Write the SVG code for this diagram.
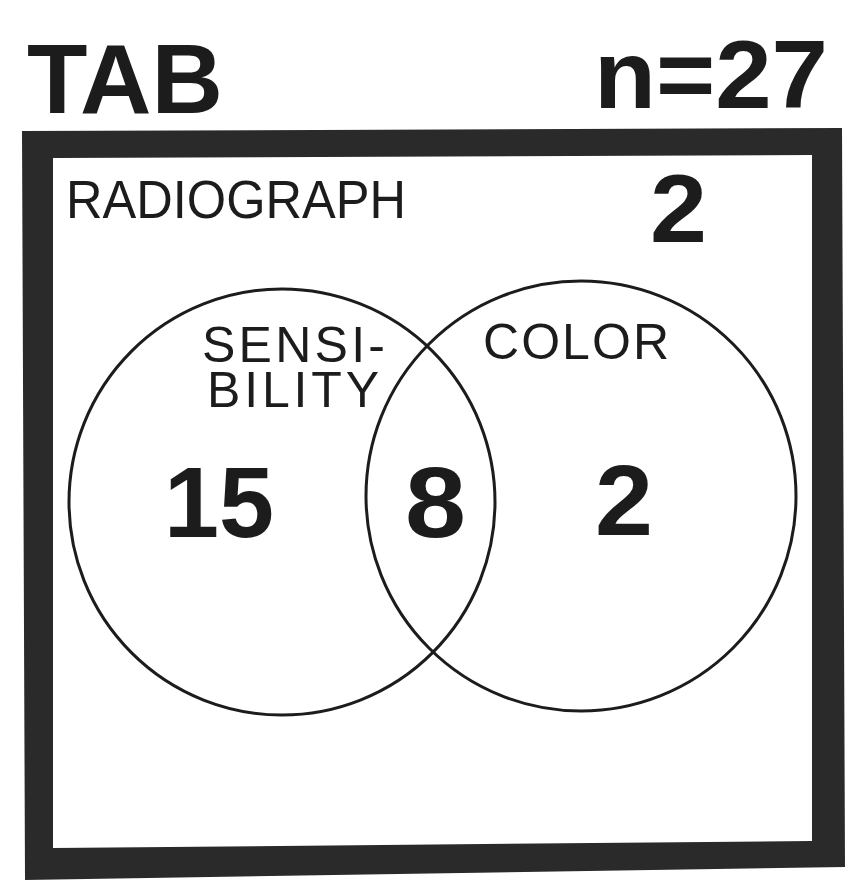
<svg xmlns="http://www.w3.org/2000/svg" width="867" height="887" viewBox="0 0 867 887">
  <style>
    .t { font-family: "Liberation Sans", Arial, sans-serif; fill: #1c1c1c; }
    .big { font-weight: bold; }
    .lbl { font-size: 50px; }
    .num { font-size: 100px; font-weight: bold; }
    .circle { fill: none; stroke: #1c1c1c; stroke-width: 3; }
  </style>
  <rect width="867" height="887" fill="#ffffff"/>
  <g id="title">
    <text class="t big" x="27" y="113" font-size="98" textLength="196" lengthAdjust="spacingAndGlyphs">TAB</text>
    <text class="t big" x="594" y="108" font-size="97" textLength="234" lengthAdjust="spacingAndGlyphs">n=27</text>
  </g>
  <g id="radiograph">
    <path fill="#2a2a2a" fill-rule="evenodd" d="M22,131 L842,128 L845,867 L25,880 Z M53,158 L812,155 L812,841 L53,848 Z"/>
    <text class="t" x="66" y="218" font-size="53" textLength="340" lengthAdjust="spacingAndGlyphs">RADIOGRAPH</text>
    <text class="t big" x="650" y="242" font-size="97" textLength="57" lengthAdjust="spacingAndGlyphs">2</text>
  </g>
  <g id="sensibility">
    <circle class="circle" cx="282" cy="502" r="213"/>
    <text class="t lbl" x="202" y="362" textLength="183" lengthAdjust="spacing">SENSI-</text>
    <text class="t lbl" x="207" y="407" textLength="172" lengthAdjust="spacing">BILITY</text>
    <text class="t num" x="164" y="537" textLength="110" lengthAdjust="spacingAndGlyphs">15</text>
  </g>
  <g id="color">
    <circle class="circle" cx="581" cy="496" r="215"/>
    <text class="t lbl" x="483" y="359" textLength="186" lengthAdjust="spacing">COLOR</text>
    <text class="t num" x="595" y="535" textLength="58" lengthAdjust="spacingAndGlyphs">2</text>
  </g>
  <g id="overlap">
    <text class="t num" x="405" y="537" textLength="61" lengthAdjust="spacingAndGlyphs">8</text>
  </g>
  <g id="connectors"/>
</svg>
